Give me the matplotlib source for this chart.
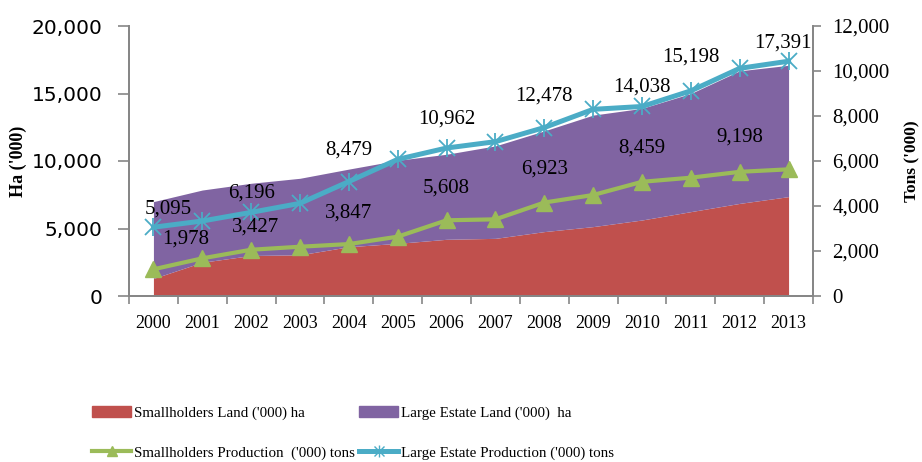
import matplotlib.pyplot as plt
from matplotlib.lines import Line2D
from matplotlib.patches import Patch
from matplotlib.legend_handler import HandlerTuple
from matplotlib.ticker import FuncFormatter, FixedLocator

# values; production series are given on the land (left) scale,
# which is where the data labels sit
years = [str(y) for y in range(2000, 2014)]
small_land = [1300, 2500, 3000, 3050, 3650, 3900, 4200, 4270, 4770, 5140, 5630, 6250, 6860, 7360]
estate_land = [5690, 5350, 5350, 5670, 5750, 6150, 6300, 6850, 7460, 8260, 8270, 8750, 9820, 9730]
small_prod = [1978, 2790, 3427, 3650, 3847, 4395, 5608, 5679, 6923, 7481, 8459, 8765, 9198, 9383]
estate_prod = [5095, 5555, 6196, 6864, 8479, 10123, 10962, 11432, 12478, 13827, 14038, 15198, 16864, 17391]

# which points carry a data label, and where the label sits (offset in points)
estate_lbl = [(0, 11, 13), (2, 0, 14), (4, 0, 23), (6, 0, 21), (8, 0, 23), (10, 0, 14), (11, 0, 24), (13, -4, 13)]
small_lbl = [(0, 23, 22), (2, 3, 16), (4, 0, 22), (6, 0, 23), (8, 0, 24), (10, 0, 24), (12, 0, 25)]

RED = '#C0504D'
PURPLE = '#8064A2'
GREEN = '#9BBB59'
BLUE = '#4BACC6'
GREY = '#868686'
SERIF = 'Liberation Serif'

fig = plt.figure(figsize=(9.22, 4.62), dpi=100)
ax = fig.add_axes([129 / 922, 1 - 296 / 462, 684 / 922, 270 / 462])
ax2 = ax.twinx()

x = list(range(len(years)))
top = [a + b for a, b in zip(small_land, estate_land)]
ax.fill_between(x, 0, small_land, color=RED, lw=0, zorder=1)
ax.fill_between(x, small_land, top, color=PURPLE, lw=0, zorder=1)

ax.plot(x, small_prod, color=GREEN, lw=3, marker='^', ms=11, mec=GREEN, zorder=3)
ax.plot(x, estate_prod, color=BLUE, lw=3.6, marker='x', ms=11, mew=1.3, zorder=4)
ax.plot(x, estate_prod, ls='none', color=BLUE, marker='|', ms=13, mew=1.3, zorder=4)

for i, dx, dy in estate_lbl:
    ax.annotate(f'{estate_prod[i]:,}', (x[i], estate_prod[i]), xytext=(dx, dy),
                textcoords='offset points', ha='center', va='center',
                fontsize=15, family=SERIF, zorder=5)
for i, dx, dy in small_lbl:
    ax.annotate(f'{small_prod[i]:,}', (x[i], small_prod[i]), xytext=(dx, dy),
                textcoords='offset points', ha='center', va='center',
                fontsize=15, family=SERIF, zorder=5)

ax.set_xlim(-0.5, len(years) - 0.5)
ax.set_ylim(0, 20000)
ax2.set_ylim(0, 12000)
ax.set_yticks(range(0, 20001, 5000))
ax2.set_yticks(range(0, 12001, 2000))
ax.yaxis.set_major_formatter(FuncFormatter(lambda v, p: f'{int(v):,}'))
ax2.yaxis.set_major_formatter(FuncFormatter(lambda v, p: f'{int(v):,}'))

ax.set_xticks(x)
ax.set_xticklabels(years, family=SERIF, fontsize=13)
ax.xaxis.set_minor_locator(FixedLocator([i - 0.5 for i in range(len(years) + 1)]))
ax.tick_params(axis='x', which='major', length=0, pad=14)
ax.tick_params(axis='x', which='minor', length=6, color=GREY, width=1.2)
ax.tick_params(axis='y', length=8, color=GREY, width=1.2, labelsize=14.5, pad=11)
for lab in ax.get_yticklabels():
    lab.set_family('DejaVu Sans')
ax2.tick_params(axis='y', length=6, color=GREY, width=1.2, labelsize=15, pad=8)
for lab in ax2.get_yticklabels():
    lab.set_family(SERIF)

for a in (ax, ax2):
    a.spines['top'].set_visible(False)
    for s in ('left', 'right', 'bottom'):
        a.spines[s].set_color(GREY)
        a.spines[s].set_linewidth(1.3)

ax.set_ylabel("Ha ('000)", family=SERIF, fontsize=13, fontweight='bold')
ax.yaxis.set_label_coords(-0.149, 0.5)
ax2.set_ylabel("Tons ('000)", family=SERIF, fontsize=12.5, fontweight='bold')
ax2.yaxis.set_label_coords(1.133, 0.5)

h_red = Patch(color=RED)
h_purple = Patch(color=PURPLE)
h_green = Line2D([], [], color=GREEN, lw=3, marker='^', ms=7)
h_blue = (Line2D([], [], color=BLUE, lw=3.6, marker='x', ms=7, mew=1),
          Line2D([], [], ls='none', color=BLUE, marker='|', ms=8, mew=1))
fig.legend([h_red, h_green, h_purple, h_blue],
           ["Smallholders Land ('000) ha", "Smallholders Production  ('000) tons",
            "Large Estate Land ('000)  ha", "Large Estate Production ('000) tons"],
           handler_map={tuple: HandlerTuple(ndivide=1)},
           loc='upper left', bbox_to_anchor=(92 / 922, 1 - 406 / 462), ncol=2,
           frameon=False, prop={'family': SERIF, 'size': 10.8}, handlelength=2.6,
           handletextpad=0.2, columnspacing=0.3, labelspacing=1.75,
           borderpad=0, borderaxespad=0)

fig.savefig('out.png', dpi=100)
